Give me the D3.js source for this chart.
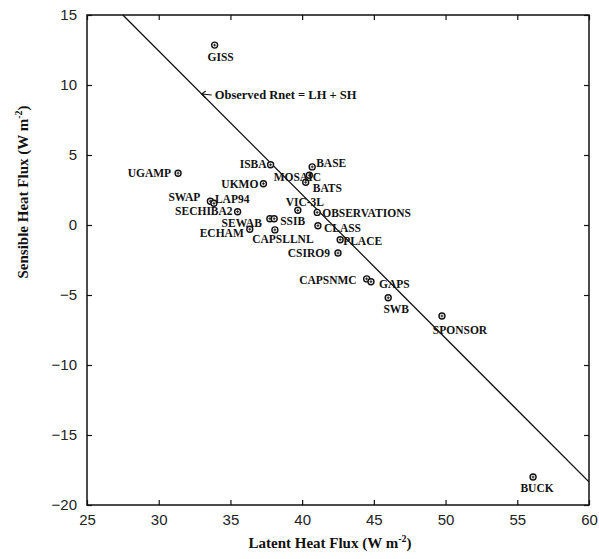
<!DOCTYPE html>
<html>
<head>
<meta charset="utf-8">
<script src="https://cdn.jsdelivr.net/npm/d3@7"></script>
<style>
  body { margin: 0; background: #fff; }
  svg { display: block; }
</style>
</head>
<body>
<svg width="599" height="559"></svg>
<script>
// model names and their mean fluxes (W m-2)
const models = ["GISS", "UGAMP", "ISBA", "BASE", "MOSAIC", "BATS", "UKMO", "SWAP", "LAP94",
  "SECHIBA2", "VIC-3L", "OBSERVATIONS", "SEWAB", "SSIB", "CLASS", "ECHAM", "CAPSLLNL",
  "PLACE", "CSIRO9", "CAPSNMC", "GAPS", "SWB", "SPONSOR", "BUCK"];
const latent = [33.9, 31.35, 37.8, 40.7, 40.5, 40.25, 37.3, 33.6, 33.85,
  35.5, 39.7, 41.05, 37.75, 38.05, 41.1, 36.35, 38.1,
  42.65, 42.5, 44.5, 44.8, 46.0, 49.75, 56.1];
const sensible = [12.85, 3.7, 4.3, 4.15, 3.55, 3.05, 2.95, 1.7, 1.55,
  0.95, 1.05, 0.9, 0.45, 0.45, -0.05, -0.3, -0.35,
  -1.05, -2.0, -3.85, -4.05, -5.2, -6.5, -18.0];

// observed net radiation line LH + SH
const rnetLine = [[27.5, 15], [60, -18.35]];

const xTicks = [25, 30, 35, 40, 45, 50, 55, 60];
const yTicks = [15, 10, 5, 0, -5, -10, -15, -20];

// where each label sits relative to its marker
const labelPos = {
  "GISS": ["middle", 6, 16], "UGAMP": ["end", -7, 4], "ISBA": ["end", -4, 3],
  "BASE": ["start", 4, 0], "MOSAIC": ["middle", -12, 6], "BATS": ["start", 7, 10],
  "UKMO": ["end", -5, 4], "SWAP": ["end", -10, 0], "LAP94": ["start", 1, 0],
  "SECHIBA2": ["end", -5, 3], "VIC-3L": ["middle", 7, -4], "OBSERVATIONS": ["start", 5, 5],
  "SEWAB": ["end", -8, 8], "SSIB": ["start", 6, 6], "CLASS": ["start", 6, 6],
  "ECHAM": ["end", -6, 8], "CAPSLLNL": ["middle", 8, 13], "PLACE": ["start", 3, 5],
  "CSIRO9": ["end", -8, 4], "CAPSNMC": ["end", -10, 5], "GAPS": ["start", 8, 6],
  "SWB": ["middle", 8, 15], "SPONSOR": ["middle", 18, 18], "BUCK": ["middle", 4, 15]
};

const margin = { top: 15, right: 10, bottom: 54, left: 87 };
const width = 599 - margin.left - margin.right;
const height = 559 - margin.top - margin.bottom;

const svg = d3.select("svg");
const chart = svg.append("g")
  .attr("transform", `translate(${margin.left}, ${margin.top})`);

const x = d3.scaleLinear().domain([25, 60]).range([0, width]);
const y = d3.scaleLinear().domain([-20, 15]).range([height, 0]);

const serif = "'Liberation Serif', 'DejaVu Serif', serif";
const sans = "'Liberation Sans', Arial, sans-serif";

// axes with inward ticks on all four sides
function styleAxis(g, showLabels) {
  g.select(".domain").remove();
  g.selectAll(".tick line").attr("stroke", "#111").attr("stroke-width", 1.2);
  if (showLabels) {
    g.selectAll(".tick text").attr("fill", "#222")
      .style("font-family", sans).style("font-size", "15px");
  } else {
    g.selectAll(".tick text").remove();
  }
}

chart.append("g")
  .attr("transform", `translate(0, ${height})`)
  .call(d3.axisBottom(x).tickValues(xTicks).tickSizeInner(-5).tickSizeOuter(0).tickPadding(9))
  .call(g => styleAxis(g, true));
chart.append("g")
  .call(d3.axisTop(x).tickValues(xTicks).tickSizeInner(-5).tickSizeOuter(0))
  .call(g => styleAxis(g, false));
chart.append("g")
  .call(d3.axisLeft(y).tickValues(yTicks).tickSizeInner(-5).tickSizeOuter(0).tickPadding(10))
  .call(g => styleAxis(g, true));
chart.append("g")
  .attr("transform", `translate(${width}, 0)`)
  .call(d3.axisRight(y).tickValues(yTicks).tickSizeInner(-5).tickSizeOuter(0))
  .call(g => styleAxis(g, false));

// frame
chart.append("rect")
  .attr("x", 0).attr("y", 0)
  .attr("width", width).attr("height", height)
  .attr("fill", "none")
  .attr("stroke", "#111")
  .attr("stroke-width", 1.5);

// Rnet line
chart.append("path")
  .datum(rnetLine)
  .attr("d", d3.line().x(d => x(d[0])).y(d => y(d[1])))
  .attr("fill", "none")
  .attr("stroke", "#111")
  .attr("stroke-width", 1.3);

// annotation with small arrow pointing at the line
const annoLH = 33.0;
const annoSH = rnetLine[0][1] + (annoLH - rnetLine[0][0]) *
  (rnetLine[1][1] - rnetLine[0][1]) / (rnetLine[1][0] - rnetLine[0][0]);
const ax = x(annoLH), ay = y(annoSH);
chart.append("path")
  .attr("d", `M${ax + 10},${ay + 1} L${ax},${ay} M${ax + 4},${ay - 3} L${ax},${ay} L${ax + 4},${ay + 4}`)
  .attr("fill", "none")
  .attr("stroke", "#111")
  .attr("stroke-width", 1.1);
chart.append("text")
  .attr("x", ax + 13)
  .attr("y", ay + 5)
  .style("font-family", serif)
  .style("font-size", "12.5px")
  .style("font-weight", "bold")
  .attr("fill", "#111")
  .text("Observed Rnet = LH + SH");

// model points
const pts = models.map((m, i) => ({ name: m, lh: latent[i], sh: sensible[i] }));

chart.selectAll(".pt")
  .data(pts)
  .enter()
  .append("circle")
  .attr("class", "pt")
  .attr("cx", d => x(d.lh))
  .attr("cy", d => y(d.sh))
  .attr("r", 3)
  .attr("fill", "#fff")
  .attr("stroke", "#111")
  .attr("stroke-width", 1.4);

chart.selectAll(".pt-c")
  .data(pts)
  .enter()
  .append("path")
  .attr("class", "pt-c")
  .attr("d", d => {
    const cx = x(d.lh), cy = y(d.sh);
    return `M${cx - 1.5},${cy} L${cx + 1.5},${cy} M${cx},${cy - 1.5} L${cx},${cy + 1.5}`;
  })
  .attr("stroke", "#111")
  .attr("stroke-width", 0.9);

chart.selectAll(".lbl")
  .data(pts)
  .enter()
  .append("text")
  .attr("class", "lbl")
  .attr("x", d => x(d.lh) + labelPos[d.name][1])
  .attr("y", d => y(d.sh) + labelPos[d.name][2])
  .attr("text-anchor", d => labelPos[d.name][0])
  .style("font-family", serif)
  .style("font-size", "11.5px")
  .style("font-weight", "bold")
  .attr("fill", "#111")
  .text(d => d.name);

// axis titles
const xt = svg.append("text")
  .attr("x", margin.left + width / 2 - 8)
  .attr("y", 548)
  .attr("text-anchor", "middle")
  .style("font-family", serif)
  .style("font-size", "15px")
  .style("font-weight", "bold")
  .attr("fill", "#111");
xt.append("tspan").text("Latent Heat Flux (W m");
xt.append("tspan").attr("dy", -6).style("font-size", "10px").text("-2");
xt.append("tspan").attr("dy", 6).text(")");

const yt = svg.append("text")
  .attr("transform", `translate(28, 192) rotate(-90)`)
  .attr("text-anchor", "middle")
  .style("font-family", serif)
  .style("font-size", "15px")
  .style("font-weight", "bold")
  .attr("fill", "#111");
yt.append("tspan").text("Sensible Heat Flux (W m");
yt.append("tspan").attr("dy", -6).style("font-size", "10px").text("-2");
yt.append("tspan").attr("dy", 6).text(")");
</script>
</body>
</html>
